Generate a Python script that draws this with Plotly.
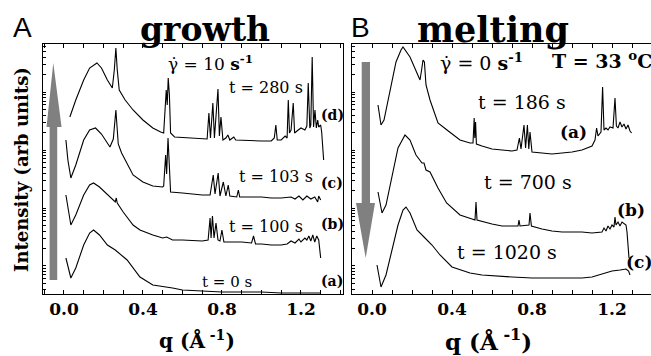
import plotly.graph_objects as go

W, H = 651, 356

# ---------------- data (q in 1/Angstrom, intensity in arb. units) ----------------
# Panel A: growth
qA_a = [0.01, 0.02, 0.035, 0.06, 0.10, 0.13, 0.15, 0.18, 0.22, 0.26, 0.32, 0.385, 0.45, 0.55, 0.60, 0.70, 0.80, 0.90, 1.00, 1.10, 1.20, 1.30]
IA_a = [36, 28, 16, 26, 49, 61, 64, 59, 49, 44, 34, 17, 9, 6, 4, 3, 2, 2, 2, 1, 1, 1]

qA_b = [0.01, 0.02, 0.035, 0.06, 0.10, 0.13, 0.15, 0.18, 0.22, 0.26, 0.265, 0.27, 0.30, 0.35, 0.385, 0.45, 0.50, 0.52, 0.55, 0.60,
        0.70, 0.73, 0.74, 0.745, 0.752, 0.76, 0.77, 0.78, 0.79, 0.80, 0.81, 0.85, 0.90, 0.95, 0.96, 0.97, 1.00, 1.05,
        1.10, 1.13, 1.15, 1.17, 1.19, 1.20, 1.22, 1.23, 1.24, 1.25, 1.26, 1.27, 1.28, 1.29, 1.295, 1.30]
IA_b = [99, 86, 69, 79, 99, 109, 111, 107, 99, 92, 96, 91, 82, 69, 64, 59, 56, 57, 54, 54,
        53, 54, 76, 56, 78, 56, 71, 54, 53, 64, 52, 52, 52, 51, 58, 50, 50, 49,
        49, 50, 53, 51, 55, 52, 56, 54, 58, 53, 59, 52, 58, 54, 46, 36]

qA_c = [0.01, 0.02, 0.035, 0.06, 0.10, 0.13, 0.16, 0.19, 0.233, 0.25, 0.263, 0.275, 0.292, 0.35, 0.40, 0.45, 0.50, 0.505, 0.515,
        0.52, 0.527, 0.533, 0.54, 0.60, 0.70, 0.74, 0.756, 0.765, 0.781, 0.79, 0.807, 0.82, 0.832, 0.84, 0.875, 0.883, 0.89,
        0.95, 1.00, 1.05, 1.10, 1.15, 1.17, 1.19, 1.21, 1.23, 1.25, 1.27, 1.285, 1.29, 1.30]
IA_c = [154, 134, 116, 129, 154, 164, 166, 160, 147, 155, 184, 150, 141, 119, 112, 108, 107, 108, 139,
        120, 156, 130, 102, 101, 99, 99, 119, 100, 121, 98, 112, 98, 109, 98, 97, 104, 97,
        97, 97, 96, 96, 97, 95, 98, 94, 98, 95, 97, 92, 98, 94]

qA_d = [0.03, 0.06, 0.10, 0.13, 0.167, 0.19, 0.22, 0.245, 0.255, 0.263, 0.27, 0.28, 0.31, 0.35, 0.40, 0.45, 0.49, 0.505,
        0.512, 0.518, 0.523, 0.528, 0.534, 0.54, 0.56, 0.62, 0.68, 0.725, 0.734, 0.742, 0.754, 0.762, 0.78, 0.787,
        0.795, 0.805, 0.82, 0.83, 0.84, 0.86, 0.87, 0.95, 1.00, 1.05, 1.065, 1.073, 1.08, 1.10, 1.12, 1.13,
        1.136, 1.142, 1.15, 1.161, 1.168, 1.18, 1.20, 1.22, 1.23, 1.237, 1.245, 1.25, 1.257, 1.264, 1.271, 1.278,
        1.285, 1.29, 1.30, 1.305, 1.31, 1.315]
IA_d = [177, 194, 214, 226, 231, 226, 214, 206, 224, 246, 224, 204, 194, 184, 174, 166, 162, 161,
        184, 204, 189, 216, 199, 161, 157, 156, 155, 155, 181, 156, 191, 156, 205, 158,
        177, 154, 156, 159, 154, 157, 154, 153, 153, 153, 156, 169, 154, 154, 158, 156,
        194, 161, 164, 191, 161, 163, 166, 164, 168, 211, 166, 169, 237, 167, 184, 166,
        174, 167, 169, 162, 149, 134]

# Panel B: melting
qB_a = [0.03, 0.045, 0.06, 0.09, 0.12, 0.145, 0.155, 0.19, 0.22, 0.24, 0.248, 0.255, 0.262, 0.27, 0.29, 0.33, 0.375, 0.44,
        0.49, 0.505, 0.511, 0.514, 0.518, 0.522, 0.55, 0.60, 0.65, 0.70, 0.725, 0.737, 0.745, 0.76, 0.768, 0.777, 0.784,
        0.79, 0.80, 0.85, 0.90, 0.95, 1.00, 1.05, 1.08, 1.10, 1.115, 1.123, 1.13, 1.145, 1.153, 1.16, 1.17, 1.18, 1.19,
        1.205, 1.215, 1.222, 1.23, 1.24, 1.25, 1.26, 1.27, 1.28, 1.29, 1.298]
IB_a = [189, 169, 174, 204, 232, 244, 247, 237, 222, 214, 224, 234, 232, 209, 194, 171, 164, 154,
        151, 151, 176, 156, 172, 150, 148, 145, 144, 143, 144, 156, 145, 169, 146, 169, 145,
        162, 142, 141, 140, 141, 142, 144, 146, 148, 154, 166, 158, 162, 207, 164, 166, 164, 167,
        166, 196, 168, 166, 172, 167, 170, 165, 169, 163, 161]

qB_b = [0.03, 0.05, 0.07, 0.10, 0.13, 0.165, 0.19, 0.22, 0.25, 0.26, 0.27, 0.29, 0.33, 0.373, 0.44, 0.50, 0.515, 0.52, 0.525,
        0.60, 0.65, 0.73, 0.735, 0.74, 0.785, 0.79, 0.797, 0.85, 0.90, 0.95, 1.00, 1.05, 1.10, 1.15, 1.16, 1.17, 1.18,
        1.19, 1.20, 1.21, 1.215, 1.22, 1.23, 1.24, 1.25, 1.26, 1.27, 1.275, 1.28, 1.285]
IB_b = [102, 81, 89, 119, 146, 159, 154, 139, 131, 131, 124, 122, 106, 91, 79, 75, 74, 92, 74,
        70, 68, 68, 74, 68, 69, 81, 68, 65, 63, 62, 62, 62, 61, 62, 66, 63, 68,
        65, 69, 67, 77, 69, 72, 68, 72, 70, 69, 62, 49, 36]

qB_c = [0.025, 0.045, 0.07, 0.10, 0.13, 0.155, 0.17, 0.19, 0.225, 0.26, 0.30, 0.34, 0.40, 0.49, 0.55, 0.70, 0.80, 0.90,
        1.00, 1.05, 1.10, 1.15, 1.20, 1.24, 1.27, 1.283, 1.29]
IB_c = [29, 7, 19, 44, 69, 84, 87, 81, 64, 57, 49, 39, 27, 21, 19, 17, 16, 16,
        16, 16, 17, 20, 23, 24, 25, 23, 19]

tick_vals = [0.0, 0.4, 0.8, 1.2]
tick_text = ["0.0", "0.4", "0.8", "1.2"]

# ---------------- figure ----------------
fig = go.Figure()
line = dict(color="black", width=1.1)
for q, I in [(qA_a, IA_a), (qA_b, IA_b), (qA_c, IA_c), (qA_d, IA_d)]:
    fig.add_trace(go.Scatter(x=q, y=I, mode="lines", line=line, xaxis="x", yaxis="y", hoverinfo="skip"))
for q, I in [(qB_a, IB_a), (qB_b, IB_b), (qB_c, IB_c)]:
    fig.add_trace(go.Scatter(x=q, y=I, mode="lines", line=line, xaxis="x2", yaxis="y2", hoverinfo="skip"))
# invisible traces to carry the log-style tick axes
fig.add_trace(go.Scatter(x=[0.5], y=[10], mode="markers", marker=dict(opacity=0), xaxis="x", yaxis="y3", hoverinfo="skip"))
fig.add_trace(go.Scatter(x=[0.5], y=[10], mode="markers", marker=dict(opacity=0), xaxis="x2", yaxis="y4", hoverinfo="skip"))

def pxx(x):
    return x / W

def pyy(y):
    return 1 - y / H

ydom = [pyy(294), pyy(44)]
xdomA = [pxx(43), pxx(343)]
xdomB = [pxx(352), 1.0]

tickfont = dict(family="DejaVu Serif", size=17, color="black")
xcommon = dict(showline=True, linecolor="black", linewidth=1, mirror="allticks", ticks="inside", ticklen=4,
               tickcolor="black", tickvals=tick_vals, ticktext=["<b>%s</b>" % t for t in tick_text],
               tickfont=tickfont, showgrid=False,
               zeroline=False, minor=dict(dtick=0.1, tick0=0, ticks="inside", ticklen=3, tickcolor="black"))
ycommon = dict(showline=True, linecolor="black", linewidth=1, ticks="", showticklabels=False, showgrid=False,
               zeroline=False, range=[0, 250], domain=ydom)
logcommon = dict(type="log", range=[-0.483, 3.828], ticks="inside", ticklen=3, tickcolor="black", dtick="D1",
                 showticklabels=False, showgrid=False, showline=False, zeroline=False, side="left")

fig.update_layout(
    width=W, height=H, margin=dict(l=0, r=0, t=0, b=0),
    paper_bgcolor="white", plot_bgcolor="white", showlegend=False,
    xaxis=dict(domain=xdomA, range=[-0.106, 1.413], anchor="y", **xcommon),
    yaxis=dict(anchor="x", mirror=True, **ycommon),
    xaxis2=dict(domain=xdomB, range=[-0.10, 1.395], anchor="y2", **xcommon),
    yaxis2=dict(anchor="x2", mirror=False, **ycommon),
    yaxis3=dict(overlaying="y", anchor="x", **logcommon),
    yaxis4=dict(overlaying="y2", anchor="x2", **logcommon),
)

# arrows (decoration)
grey = "#808080"
fig.add_shape(type="path", xref="x", yref="y", fillcolor=grey, line=dict(width=0),
              path="M -0.0725 14 L -0.034 14 L -0.034 167 L -0.012 167 L -0.054 231 L -0.088 167 L -0.0725 167 Z")
fig.add_shape(type="path", xref="x2", yref="y2", fillcolor=grey, line=dict(width=0),
              path="M -0.0515 232 L -0.010 232 L -0.010 91 L 0.015 91 L -0.0315 36 L -0.080 91 L -0.0515 91 Z")

serif = "DejaVu Serif"

def ann(text, x, y, size, family=serif, xanchor="center", angle=0):
    fig.add_annotation(text=text, x=pxx(x), y=pyy(y), xref="paper", yref="paper", showarrow=False,
                       xanchor=xanchor, yanchor="middle", textangle=angle,
                       font=dict(family=family, size=size, color="black"))

ann("A", 22, 27, 28, family="Liberation Sans")
ann("<b>growth</b>", 205, 29, 33)
ann("B", 360, 27, 28, family="Liberation Sans")
ann("<b>melting</b>", 493, 29, 35)

ann("γ̇ = 10 <b>s<sup>-1</sup></b>", 166, 63, 17, xanchor="left")
ann("t = 280 s", 266, 88, 16)
ann("<b>(d)</b>", 332, 115, 14)
ann("t = 103 s", 276, 176, 16)
ann("<b>(c)</b>", 332, 183, 14)
ann("t = 100 s", 266, 227, 16)
ann("<b>(b)</b>", 332, 224, 14)
ann("t = 0 s", 227, 282, 15)
ann("<b>(a)</b>", 332, 281, 14)
ann("<b>Intensity (arb units)</b>", 22, 170, 18, angle=-90)
ann("<b>q (Å<sup> -1</sup>)</b>", 197, 340, 20)

ann("γ̇ = 0 <b>s<sup>-1</sup></b>", 438, 62, 19, xanchor="left")
ann("<b>T = 33 <sup>o</sup>C</b>", 550, 60, 19, xanchor="left")
ann("t = 186 s", 522, 102, 19)
ann("<b>(a)</b>", 573, 132, 17)
ann("t = 700 s", 528, 182, 19)
ann("<b>(b)</b>", 631, 210, 17)
ann("t = 1020 s", 507, 252, 19)
ann("<b>(c)</b>", 639, 262, 17)
ann("<b>q (Å<sup> -1</sup>)</b>", 488, 340, 23)

fig.write_html("out.html")
